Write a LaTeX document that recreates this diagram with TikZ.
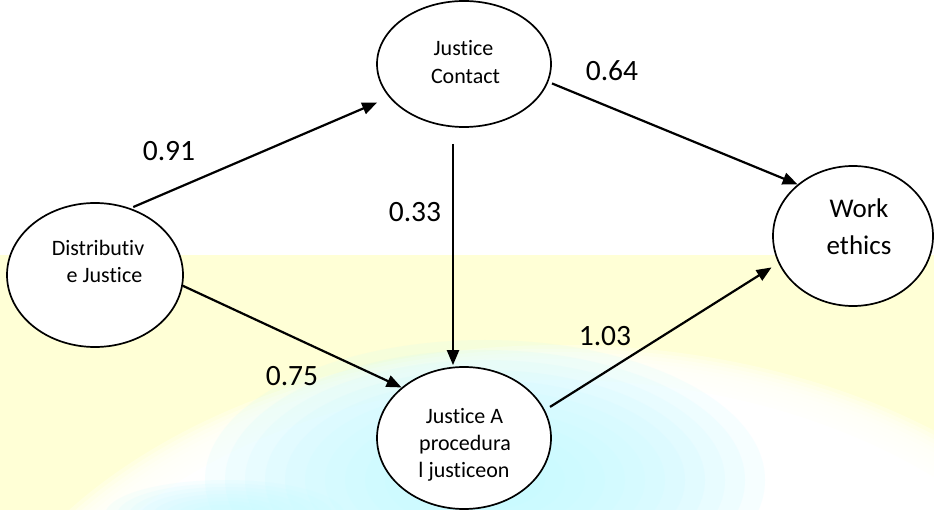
\documentclass[tikz,border=0pt]{standalone}
\usepackage{fontspec}
\setmainfont{Carlito}[Ligatures={NoCommon}]
\usetikzlibrary{shapes.geometric,arrows.meta}
\definecolor{yellowbg}{RGB}{255,255,214}
\definecolor{cyanbg}{RGB}{196,250,255}
\begin{document}
\begin{tikzpicture}[x=1pt,y=-1pt,
  bubble/.style={ellipse,draw,line width=1.7pt,fill=white,inner sep=0pt},
  lbl/.style={anchor=base,inner sep=0pt,font=\fontsize{22}{26}\selectfont},
  big/.style={anchor=base,inner sep=0pt,font=\fontsize{27}{31}\selectfont},
  num/.style={anchor=base,inner sep=0pt,font=\fontsize{29.5}{33}\selectfont},
  arr/.style={line width=2.2pt,-{Triangle[length=15pt,width=12pt]}}]
\useasboundingbox (0,0) rectangle (934,510);
% background
\fill[white] (0,0) rectangle (934,510);
\fill[yellowbg] (0,255) rectangle (934,510);
\begin{scope}
\clip (0,255) rectangle (934,510);
\foreach \i in {0,...,9}{
  \pgfmathsetmacro{\rx}{615-5*\i}
  \pgfmathsetmacro{\ry}{415-3.5*\i}
  \fill[white,opacity=0.28] (560,760) ellipse [x radius=\rx pt, y radius=\ry pt];
}
\fill[white] (560,760) ellipse [x radius=560pt, y radius=380pt];
\foreach \i in {0,...,11}{
  \pgfmathsetmacro{\rx}{280*(1-\i/14)}
  \pgfmathsetmacro{\ry}{140*(1-\i/14)}
  \fill[cyanbg,opacity=0.14] (485,480) ellipse [x radius=\rx pt, y radius=\ry pt];
}
\foreach \i in {0,...,7}{
  \pgfmathsetmacro{\rx}{120*(1-\i/10)}
  \pgfmathsetmacro{\ry}{35*(1-\i/10)}
  \fill[cyanbg,opacity=0.12] (225,515) ellipse [x radius=\rx pt, y radius=\ry pt];
}
\end{scope}
% nodes
\node[bubble,minimum width=176pt,minimum height=144pt] (dist) at (95,275) {};
\node[bubble,minimum width=174pt,minimum height=126pt] (contact) at (464,64) {};
\node[bubble,minimum width=174pt,minimum height=142pt] (jA) at (464,438) {};
\node[bubble,minimum width=160pt,minimum height=140pt] (work) at (853,236) {};
% texts
\node[lbl] (dist1) at (98,256) {Distributiv};
\node[lbl] (dist2) at (104.5,283) {e Justice};
\node[lbl] (con1) at (463.5,56) {Justice};
\node[lbl] (con2) at (465.5,84) {Contact};
\node[lbl] (ja1) at (464.5,423) {Justice A};
\node[lbl] (ja2) at (465,450) {procedura};
\node[lbl] (ja3) at (464,477) {l justiceon};
\node[big] (wk1) at (859,218) {Work};
\node[big] (wk2) at (859,255) {ethics};
% labels
\node[num] (n91) at (169,161) {0.91};
\node[num] (n64) at (612,81) {0.64};
\node[num] (n33) at (415,222) {0.33};
\node[num] (n75) at (292,385) {0.75};
\node[num] (n103) at (605,345) {1.03};
% connectors
\draw[arr,shorten <=3pt,shorten >=13pt] (dist.62) -- (contact.204);
\draw[arr,shorten <=4pt] (contact.348) -- (work.137.7);
\draw[arr] ([xshift=-11pt,yshift=-16pt]contact.south) -- ([xshift=-11pt,yshift=1pt]jA.north);
\draw[arr] (dist.-7.9) -- (jA.141.1);
\draw[arr,shorten <=6pt,shorten >=8pt] (jA.19.2) -- (work.200.9);
\end{tikzpicture}
\end{document}
